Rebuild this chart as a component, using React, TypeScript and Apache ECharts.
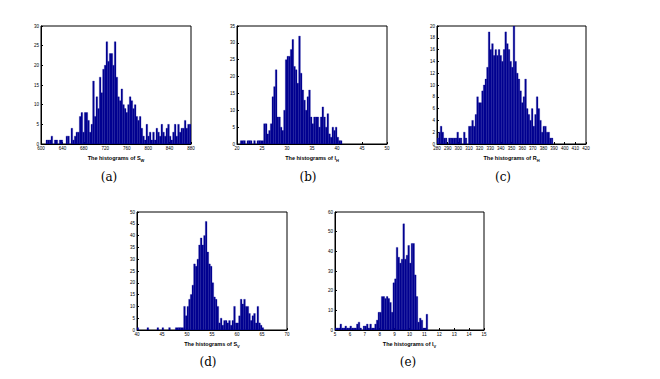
import React, { useEffect, useRef } from "react";
import * as echarts from "echarts";

// Histogram counts (bins of equal width spanning each x-range)
const countsA = [
  0, 0, 0, 1, 1, 1, 2, 0, 1, 1, 0, 1, 1, 0, 0, 2, 2, 0, 4, 1,
  2, 3, 3, 7, 8, 3, 8, 8, 6, 3, 5, 16, 7, 12, 9, 17, 13, 19, 20, 26,
  21, 23, 23, 20, 26, 17, 12, 11, 14, 10, 9, 8, 10, 12, 11, 9, 10, 7, 6, 7,
  4, 2, 1, 5, 2, 3, 1, 3, 1, 4, 3, 2, 5, 3, 2, 4, 5, 2, 1, 3,
  5, 2, 5, 3, 4, 4, 6, 4, 5, 5,
];
const countsB = [
  0, 0, 1, 1, 1, 0, 1, 1, 1, 0, 1, 0, 1, 1, 1, 1, 6, 6, 3, 4,
  6, 14, 17, 22, 8, 8, 5, 4, 10, 25, 26, 26, 28, 31, 23, 22, 18, 32, 21, 16,
  13, 10, 14, 16, 8, 6, 8, 8, 8, 5, 8, 11, 8, 5, 9, 3, 2, 5, 4, 5,
  2, 1, 1, 0, 0, 0, 0, 0, 0, 0, 0, 0, 0, 0, 0, 0, 0, 0, 0, 0,
  0, 0, 0, 0, 0, 0, 0, 0, 0, 0,
];
const countsC = [
  1, 2, 3, 2, 1, 1, 0, 1, 1, 1, 1, 1, 2, 1, 1, 0, 2, 1, 0, 3,
  3, 4, 3, 5, 8, 7, 7, 9, 10, 11, 13, 19, 16, 17, 15, 16, 15, 16, 15, 14,
  16, 19, 17, 16, 14, 13, 20, 14, 12, 11, 9, 7, 8, 11, 6, 5, 4, 6, 3, 5,
  8, 6, 4, 2, 3, 3, 2, 2, 1, 1, 0, 0, 0, 0, 0, 0, 0, 0, 0, 0,
  0, 0, 0, 0, 0, 0, 0, 0, 0, 0,
];
const countsD = [
  1, 0, 0, 0, 0, 0, 1, 0, 0, 0, 0, 0, 1, 0, 0, 1, 0, 0, 0, 1,
  0, 0, 0, 1, 1, 1, 1, 1, 10, 6, 10, 13, 15, 19, 28, 27, 30, 36, 39, 36,
  40, 46, 33, 28, 27, 20, 14, 13, 10, 3, 5, 2, 4, 4, 3, 4, 2, 4, 10, 3,
  3, 6, 13, 11, 13, 10, 10, 7, 4, 6, 7, 3, 10, 3, 2, 1, 0, 0, 0, 0,
  0, 0, 0, 0, 0, 0, 0, 0, 0, 0,
];
const countsE = [
  1, 1, 1, 3, 1, 1, 2, 1, 1, 2, 1, 1, 1, 3, 4, 1, 0, 2, 2, 3,
  1, 3, 1, 1, 3, 5, 9, 9, 17, 17, 16, 17, 16, 14, 9, 24, 26, 42, 37, 34,
  36, 54, 36, 38, 43, 34, 44, 44, 28, 17, 4, 6, 5, 1, 1, 8, 0, 0, 0, 0,
  0, 0, 0, 0, 0, 0, 0, 0, 0, 0, 0, 0, 0, 0, 0, 0, 0, 0, 0, 0,
  0, 0, 0, 0, 0, 0, 0, 0, 0, 0,
];

const xRangeA = [600, 880, 40];
const xRangeB = [20, 50, 5];
const xRangeC = [280, 420, 10];
const xRangeD = [40, 70, 5];
const xRangeE = [5, 15, 1];

const yRangeA = [0, 30, 5];
const yRangeB = [0, 35, 5];
const yRangeC = [0, 20, 2];
const yRangeD = [0, 50, 5];
const yRangeE = [0, 60, 10];

const titleMain = "The histograms of ";
const symA = ["S", "W"];
const symB = ["l", "H"];
const symC = ["R", "H"];
const symD = ["S", "V"];
const symE = ["l", "V"];
const panelLabels = ["(a)", "(b)", "(c)", "(d)", "(e)"];

const panels = [
  { counts: countsA, xr: xRangeA, yr: yRangeA, sym: symA, grid: { left: 41, top: 26, width: 150, height: 118 }, lab: [109, 177] },
  { counts: countsB, xr: xRangeB, yr: yRangeB, sym: symB, grid: { left: 237, top: 26, width: 150, height: 118 }, lab: [308, 177] },
  { counts: countsC, xr: xRangeC, yr: yRangeC, sym: symC, grid: { left: 437, top: 26, width: 149, height: 118 }, lab: [503, 177] },
  { counts: countsD, xr: xRangeD, yr: yRangeD, sym: symD, grid: { left: 137, top: 212, width: 150, height: 118 }, lab: [208, 362] },
  { counts: countsE, xr: xRangeE, yr: yRangeE, sym: symE, grid: { left: 335, top: 212, width: 149, height: 118 }, lab: [408, 362] },
];

const BAR = "#00008F";

export default function App() {
  const ref = useRef<HTMLDivElement>(null);
  useEffect(() => {
    if (!ref.current) return;
    const chart = echarts.init(ref.current, undefined, { renderer: "svg" });
    const grids: any[] = [];
    const xAxes: any[] = [];
    const yAxes: any[] = [];
    const series: any[] = [];
    const graphics: any[] = [];
    panels.forEach((p, k) => {
      grids.push({ ...p.grid, show: true, borderColor: "#000", borderWidth: 1, backgroundColor: "#fff" });
      const [xmin, xmax, xint] = p.xr;
      const [ymin, ymax, yint] = p.yr;
      const n = p.counts.length;
      const w = (xmax - xmin) / n;
      xAxes.push({
        type: "value", gridIndex: k, min: xmin, max: xmax, interval: xint,
        axisLine: { show: true, lineStyle: { color: "#000", width: 1 } },
        axisTick: { show: true, inside: true, length: 2, lineStyle: { color: "#000" } },
        axisLabel: { fontSize: 4.5, color: "#000", margin: 2, fontFamily: "Liberation Sans, Arial", showMinLabel: true, showMaxLabel: true },
        splitLine: { show: false },
        name: titleMain + "{b|" + p.sym[0] + "}{s|" + p.sym[1] + "}",
        nameLocation: "middle",
        nameGap: 10,
        nameTextStyle: {
          fontSize: 5.5, color: "#000", fontFamily: "Liberation Sans, Arial", fontWeight: "bold",
          rich: {
            b: { fontSize: 5.5, fontWeight: "bold", fontFamily: "Liberation Sans, Arial", color: "#000" },
            s: { fontSize: 4, fontWeight: "bold", fontFamily: "Liberation Sans, Arial", color: "#000", verticalAlign: "bottom", padding: [4, 0, 0, 0] },
          },
        },
      });
      yAxes.push({
        type: "value", gridIndex: k, min: ymin, max: ymax, interval: yint,
        axisLine: { show: true, lineStyle: { color: "#000", width: 1 } },
        axisTick: { show: true, inside: true, length: 2, lineStyle: { color: "#000" } },
        axisLabel: { fontSize: 4.5, color: "#000", margin: 2, fontFamily: "Liberation Sans, Arial" },
        splitLine: { show: false },
      });
      const data = p.counts.map((c, i) => [xmin + i * w, xmin + (i + 1) * w, c]);
      series.push({
        type: "custom",
        xAxisIndex: k,
        yAxisIndex: k,
        clip: true,
        encode: { x: [0, 1], y: 2 },
        data,
        renderItem: (params: any, api: any) => {
          const c = api.value(2);
          if (!c) return null;
          const p0 = api.coord([api.value(0), c]);
          const p1 = api.coord([api.value(1), 0]);
          return {
            type: "rect",
            shape: { x: p0[0], y: p0[1], width: p1[0] - p0[0], height: p1[1] - p0[1] },
            style: { fill: BAR, stroke: "#0a0a9a", lineWidth: 0.3 },
          };
        },
      });
      graphics.push({
        type: "text",
        x: p.lab[0],
        y: p.lab[1],
        style: {
          text: panelLabels[k],
          fontSize: 12,
          fontFamily: "DejaVu Serif, Liberation Serif, serif",
          fill: "#000",
          align: "center",
          verticalAlign: "middle",
        },
      });
    });
    chart.setOption({
      animation: false,
      backgroundColor: "#fff",
      grid: grids,
      xAxis: xAxes,
      yAxis: yAxes,
      series,
      graphic: graphics,
    });
    return () => chart.dispose();
  }, []);
  return <div ref={ref} style={{ position: "fixed", left: 0, top: 0, width: 660, height: 379 }} />;
}
